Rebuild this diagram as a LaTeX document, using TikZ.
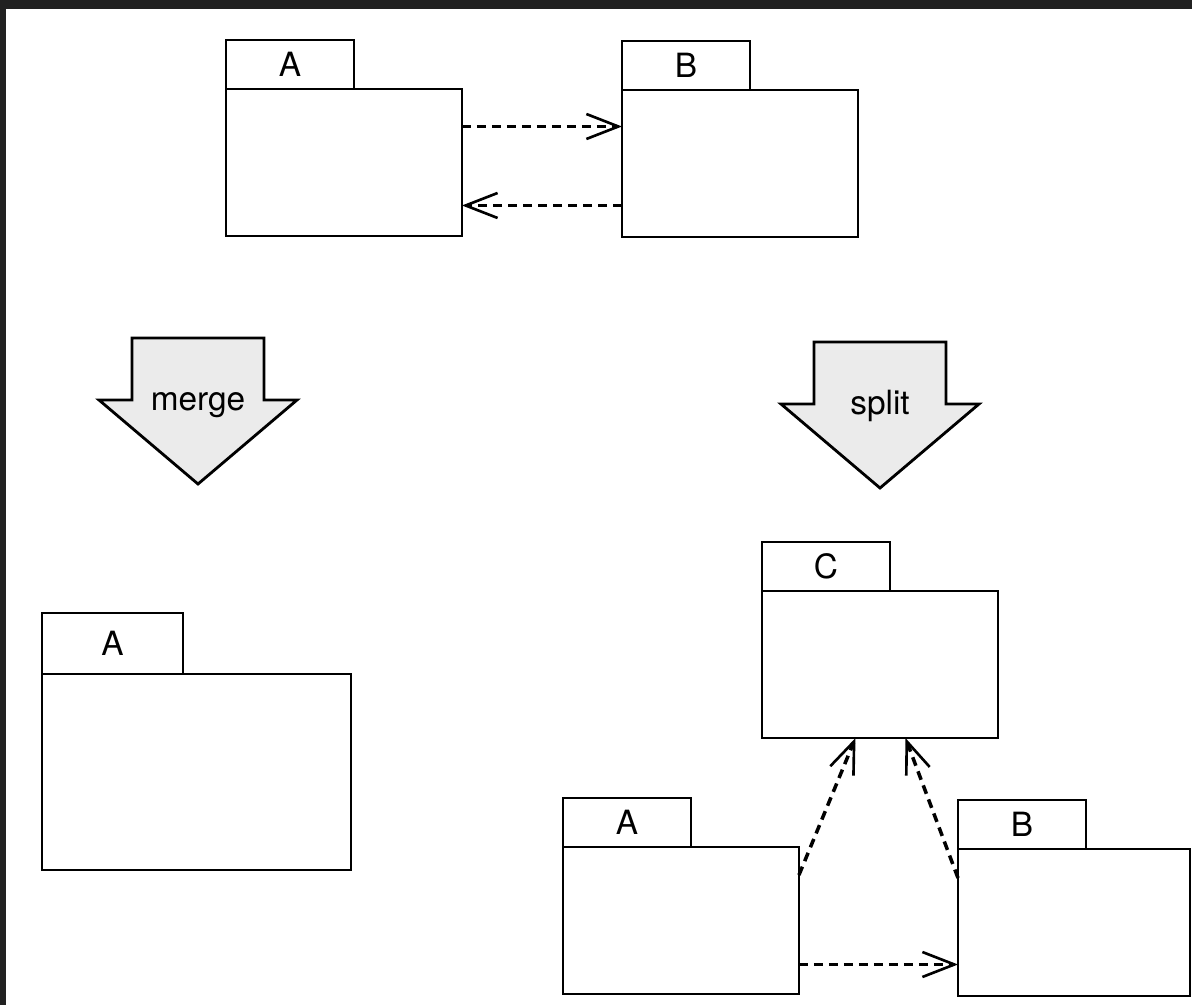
\documentclass[tikz,border=0pt]{standalone}
\usepackage{fontspec}
\setmainfont{TeX Gyre Heros}
\usetikzlibrary{arrows.meta,positioning}
\tikzset{>={Straight Barb[length=0.64cm,width=0.5cm,line width=1.5pt]}}
\colorlet{framecol}{black!87}
\colorlet{arrowfill}{black!8}
\tikzstyle{pkg}=[draw,line width=1.6pt,inner sep=0,outer sep=0,anchor=north west,
  minimum width=4.72cm,minimum height=2.94cm]
\tikzstyle{tab}=[draw,line width=1.6pt,inner sep=0,outer sep=0,anchor=south west,
  minimum width=2.56cm,minimum height=0.98cm,font=\fontsize{19}{22}\selectfont]
\tikzstyle{dep}=[->,line width=2pt,dash pattern=on 0.18cm off 0.12cm]
\tikzstyle{bigarrow}=[draw,line width=1.6pt,fill=arrowfill,line join=miter]

\begin{document}
\begin{tikzpicture}[x=0.02cm,y=-0.02cm]
  % PAGE
  \fill[white] (0,0) rectangle (1192,1005);
  \useasboundingbox (0,0) rectangle (1192,1005);
  \fill[framecol] (0,0) rectangle (1192,9);
  \fill[framecol] (0,0) rectangle (6,1005);

  % PACKAGES BEFORE
  \node[pkg] (Abody) at (226,89) {};
  \node[tab] (Atab) at (Abody.north west) {A};
  \node[pkg] (Bbody) at (622,90) {};
  \node[tab] (Btab) at (Bbody.north west) {B};
  \draw[dep] ([yshift=0.72cm]Abody.east) -- ([yshift=0.72cm]Abody.east -| Bbody.west);
  \draw[dep] ([yshift=-0.84cm]Bbody.west) -- ([yshift=-0.84cm]Bbody.west -| Abody.east);

  % MERGE / SPLIT
  \foreach \cx/\top/\txt in {198/338/merge,880/342/split}{
    \draw[bigarrow] (\cx-66,\top) -- (\cx+66,\top) -- (\cx+66,\top+62)
      -- (\cx+99,\top+62) -- (\cx,\top+146) -- (\cx-99,\top+62)
      -- (\cx-66,\top+62) -- cycle;
    \node[anchor=base,font=\fontsize{19}{22}\selectfont] (\txt) at (\cx,\top+72) {\txt};
  }

  % MERGED
  \node[pkg,minimum width=6.18cm,minimum height=3.92cm] (Mbody) at (42,674) {};
  \node[tab,minimum width=2.82cm,minimum height=1.22cm] (Mtab) at (Mbody.north west) {A};

  % SPLIT RESULT
  \node[pkg] (Cbody) at (762,591) {};
  \node[tab] (Ctab) at (Cbody.north west) {C};
  \node[pkg] (A2body) at (563,847) {};
  \node[tab] (A2tab) at (A2body.north west) {A};
  \node[pkg,minimum width=4.64cm] (B2body) at (958,849) {};
  \node[tab] (B2tab) at (B2body.north west) {B};
  \draw[dep] ([yshift=-0.88cm]A2body.east) -- ([yshift=-0.88cm]A2body.east -| B2body.west);
  \draw[dep] ([yshift=-0.56cm]A2body.north east) -- ([xshift=-0.49cm]Cbody.south);
  \draw[dep] ([yshift=-0.58cm]B2body.north west) -- ([xshift=0.51cm]Cbody.south);

\end{tikzpicture}
\end{document}
